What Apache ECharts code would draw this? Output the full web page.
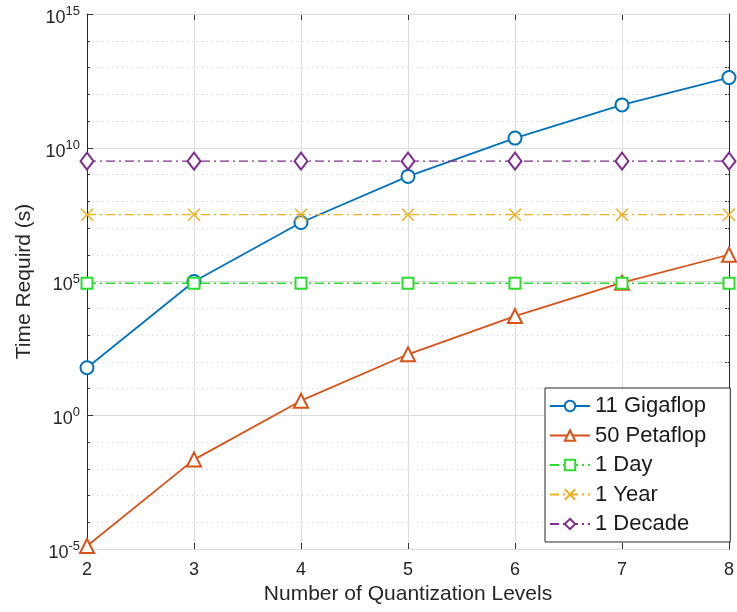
<!DOCTYPE html>
<html lang="en">
<head>
    <meta charset="UTF-8">
    <title>Time Required vs Quantization Levels</title>
    <style>
        html, body { margin: 0; padding: 0; background: #fff; }
        #main { width: 737px; height: 612px; }
    </style>
    <script src="https://cdn.jsdelivr.net/npm/echarts@6/dist/echarts.min.js"></script>
</head>
<body>
    <div id="main"></div>
    <script>
        // data
        let levels = [2, 3, 4, 5, 6, 7, 8];
        let giga = [60, 1e5, 1.6e7, 8.5e8, 2.3e10, 4e11, 4.2e12];
        let peta = [1.3e-5, 0.022, 3.5, 190, 5.1e3, 9e4, 1e6];
        let oneDay = [8.64e4, 8.64e4, 8.64e4, 8.64e4, 8.64e4, 8.64e4, 8.64e4];
        let oneYear = [3.15e7, 3.15e7, 3.15e7, 3.15e7, 3.15e7, 3.15e7, 3.15e7];
        let oneDecade = [3.15e9, 3.15e9, 3.15e9, 3.15e9, 3.15e9, 3.15e9, 3.15e9];
        let names = ['11 Gigaflop', '50 Petaflop', '1 Day', '1 Year', '1 Decade'];

        function pairs(ys) {
            return levels.map((x, i) => [x, ys[i]]);
        }

        let chartDom = document.getElementById('main');
        let myChart = echarts.init(chartDom);
        let font = 'Liberation Sans, Arial, Helvetica, sans-serif';
        let dashDot = [9, 4, 2, 4];

        function mkSeries(name, ys, color, symbol, size, dashed) {
            return {
                name: name,
                type: 'line',
                xAxisIndex: 0,
                yAxisIndex: 0,
                data: pairs(ys),
                symbol: symbol,
                symbolSize: size,
                showAllSymbol: true,
                lineStyle: { color: color, width: dashed ? 1.4 : 1.8, type: dashed ? dashDot : 'solid' },
                itemStyle: { color: color, borderColor: color, borderWidth: 1.5 },
                emphasis: { disabled: true },
                z: 3
            };
        }

        let option = {
            animation: false,
            textStyle: { fontFamily: font },
            grid: { left: 87, right: 5, top: 14, bottom: 63, containLabel: false },
            legend: {
                data: names,
                orient: 'vertical',
                left: 545,
                top: 388,
                padding: [7, 24, 7, 4],
                itemGap: 7.5,
                itemWidth: 40,
                itemHeight: 13,
                backgroundColor: '#fff',
                borderColor: '#262626',
                borderWidth: 1,
                borderRadius: 0,
                textStyle: { fontSize: 22, color: '#1a1a1a', fontFamily: font },
                selectedMode: false
            },
            xAxis: [{
                type: 'value',
                min: 2,
                max: 8,
                interval: 1,
                position: 'bottom',
                name: 'Number of Quantization Levels',
                nameLocation: 'middle',
                nameGap: 35,
                nameTextStyle: { fontSize: 21, color: '#262626', fontFamily: font },
                axisLine: { lineStyle: { color: '#333', width: 1 } },
                axisTick: { inside: true, length: 6, lineStyle: { color: '#333' } },
                axisLabel: { fontSize: 18, color: '#262626', margin: 12, fontFamily: font },
                splitLine: { show: true, lineStyle: { color: '#dcdcdc', width: 1 } }
            }, {
                type: 'value',
                min: 2,
                max: 8,
                interval: 1,
                position: 'top',
                axisLine: { show: true, lineStyle: { color: '#333', width: 1 } },
                axisTick: { inside: true, length: 6, lineStyle: { color: '#333' } },
                axisLabel: { show: false },
                splitLine: { show: false }
            }],
            yAxis: [{
                type: 'log',
                logBase: 10,
                min: 1e-5,
                max: 1e15,
                interval: 5,
                position: 'left',
                name: 'Time Requird (s)',
                nameLocation: 'middle',
                nameGap: 52,
                nameTextStyle: { fontSize: 21, color: '#262626', fontFamily: font },
                axisLine: { show: true, lineStyle: { color: '#262626', width: 1 } },
                axisTick: { inside: true, length: 6, lineStyle: { color: '#333' } },
                axisLabel: {
                    margin: 7,
                    formatter: function (v) {
                        let e = Math.round(Math.log10(v));
                        return '{b|10}{s|' + e + '}';
                    },
                    rich: {
                        b: { fontSize: 18, color: '#262626', fontFamily: font, verticalAlign: 'bottom', padding: [8, 0, 0, 0] },
                        s: { fontSize: 13, color: '#262626', fontFamily: font, verticalAlign: 'bottom', padding: [0, 0, 9, 0] }
                    }
                },
                splitLine: { show: true, lineStyle: { color: '#dcdcdc', width: 1 } },
                z: 2
            }, {
                type: 'log',
                logBase: 10,
                min: 1e-5,
                max: 1e15,
                interval: 1,
                position: 'left',
                axisLine: { show: false },
                axisTick: { inside: true, length: 3, lineStyle: { color: '#333' } },
                axisLabel: { show: false },
                splitLine: { show: true, lineStyle: { color: ['#dcdcdc', '#cfcfcf', '#cfcfcf', '#cfcfcf', '#cfcfcf'], width: 1, type: [1, 4] } },
                z: 1
            }, {
                type: 'log',
                logBase: 10,
                min: 1e-5,
                max: 1e15,
                interval: 1,
                position: 'right',
                axisLine: { show: true, lineStyle: { color: '#262626', width: 1 } },
                axisTick: { inside: true, length: 4, lineStyle: { color: '#333' } },
                axisLabel: { show: false },
                splitLine: { show: false }
            }],
            series: [
                mkSeries(names[0], giga, '#0072BD', 'emptyCircle', 13, false),
                mkSeries(names[1], peta, '#D95319', 'emptyTriangle', 14, false),
                mkSeries(names[2], oneDay, '#2ddd2d', 'emptyRect', 11, true),
                mkSeries(names[3], oneYear, '#EDB120', 'path://M0,0L10,10M10,0L0,10', 12, true),
                mkSeries(names[4], oneDecade, '#7E2F8E', 'emptyDiamond', [13, 17], true)
            ]
        };

        option && myChart.setOption(option);
    </script>
</body>
</html>
